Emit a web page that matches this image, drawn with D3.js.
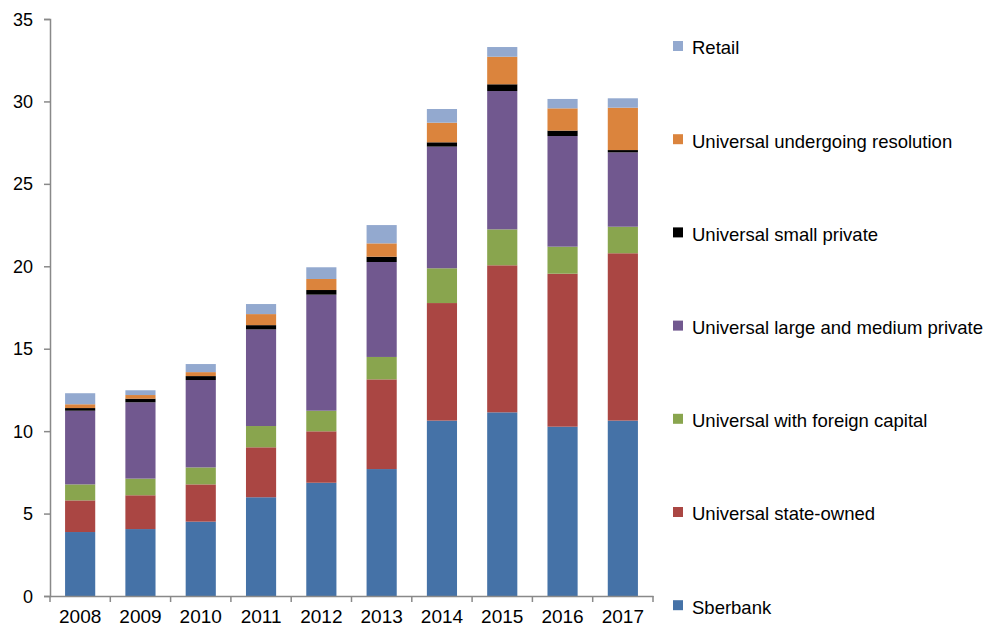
<!DOCTYPE html>
<meta charset="utf-8">
<style>
  body { margin: 0; background: #fff; }
  text { font-family: "Liberation Sans", Arial, sans-serif; fill: #000; }
</style>
<body>
<script src="https://d3js.org/d3.v7.min.js"></script>
<script>

    var width = 988,
        height = 630;

    var years = ["2008", "2009", "2010", "2011", "2012", "2013", "2014", "2015", "2016", "2017"];

    // series in stacking order, bottom to top
    var seriesNames = ["Sberbank", "Universal state-owned", "Universal with foreign capital",
        "Universal large and medium private", "Universal small private",
        "Universal undergoing resolution", "Retail"];
    var seriesColors = ["#4572A7", "#AA4643", "#89A54E", "#71588F", "#000000", "#DB843D", "#93A9CF"];

    var sberbank     = [3.88, 4.06, 4.51, 5.99, 6.87, 7.70, 10.64, 11.14, 10.27, 10.64];
    var stateOwned   = [1.92, 2.05, 2.26, 3.03, 3.12, 5.44, 7.13, 8.92, 9.28, 10.15];
    var foreign      = [0.97, 1.01, 1.03, 1.29, 1.25, 1.36, 2.11, 2.18, 1.64, 1.61];
    var largeMedium  = [4.47, 4.63, 5.30, 5.86, 7.04, 5.76, 7.38, 8.39, 6.71, 4.51];
    var smallPrivate = [0.16, 0.22, 0.24, 0.26, 0.28, 0.32, 0.26, 0.41, 0.33, 0.14];
    var resolution   = [0.23, 0.22, 0.24, 0.67, 0.67, 0.81, 1.19, 1.67, 1.35, 2.57];
    var retail       = [0.67, 0.29, 0.49, 0.61, 0.71, 1.11, 0.83, 0.59, 0.57, 0.57];

    var yTicks = [0, 5, 10, 15, 20, 25, 30, 35];

    var seriesValues = [sberbank, stateOwned, foreign, largeMedium, smallPrivate, resolution, retail];

    var rows = years.map(function(y, i) {
        var r = {year: y};
        seriesNames.forEach(function(n, k) { r[n] = seriesValues[k][i]; });
        return r;
    });

    var svg = d3.select("body").append("svg")
            .attr("width", width)
            .attr("height", height);

    var x = d3.scaleBand()
            .domain(years)
            .range([50, 653])
            .paddingInner(0.5)
            .paddingOuter(0.25);

    var y = d3.scaleLinear()
            .domain([0, 35])
            .range([596, 19]);

    var color = d3.scaleOrdinal().domain(seriesNames).range(seriesColors);

    var stacked = d3.stack().keys(seriesNames)(rows);

    //堆叠柱
    svg.append("g")
        .selectAll("g")
        .data(stacked)
        .enter().append("g")
            .attr("fill", function(d) { return color(d.key); })
        .selectAll("rect")
        .data(function(d) { return d; })
        .enter().append("rect")
            .attr("x", function(d) { return x(d.data.year); })
            .attr("y", function(d) { return y(d[1]); })
            .attr("width", x.bandwidth())
            .attr("height", function(d) { return y(d[0]) - y(d[1]); });

    //y轴
    var yAxis = svg.append("g")
            .attr("transform", "translate(50,0)")
            .call(d3.axisLeft(y).tickValues(yTicks).tickSize(6).tickPadding(11));
    yAxis.selectAll("text").style("font-size", "18px").attr("dy", "0.34em");

    //x轴
    var xAxis = svg.append("g")
            .attr("transform", "translate(0,596)")
            .call(d3.axisBottom(x).tickSize(0).tickPadding(14));
    xAxis.selectAll("text").style("font-size", "19px");

    var edges = d3.range(years.length + 1).map(function(i) { return 50 + i * x.step(); });
    xAxis.selectAll(".edge")
        .data(edges)
        .enter().append("line")
            .attr("class", "edge")
            .attr("x1", function(d) { return d; })
            .attr("x2", function(d) { return d; })
            .attr("y1", 0)
            .attr("y2", 6);

    svg.selectAll(".domain, .tick line, .edge")
        .attr("stroke", "#898989")
        .attr("stroke-width", 1.5);

    //图例, top to bottom
    var legendNames = seriesNames.slice().reverse();
    var legend = svg.append("g")
        .selectAll("g")
        .data(legendNames)
        .enter().append("g")
            .attr("transform", function(d, i) { return "translate(673," + (46 + i * 93.2) + ")"; });

    legend.append("rect")
        .attr("x", 0)
        .attr("y", -5)
        .attr("width", 10)
        .attr("height", 10)
        .attr("fill", function(d) { return color(d); });

    legend.append("text")
        .attr("x", 19)
        .attr("y", 2)
        .attr("dy", "0.35em")
        .style("font-size", "18.5px")
        .text(function(d) { return d; });

</script>
